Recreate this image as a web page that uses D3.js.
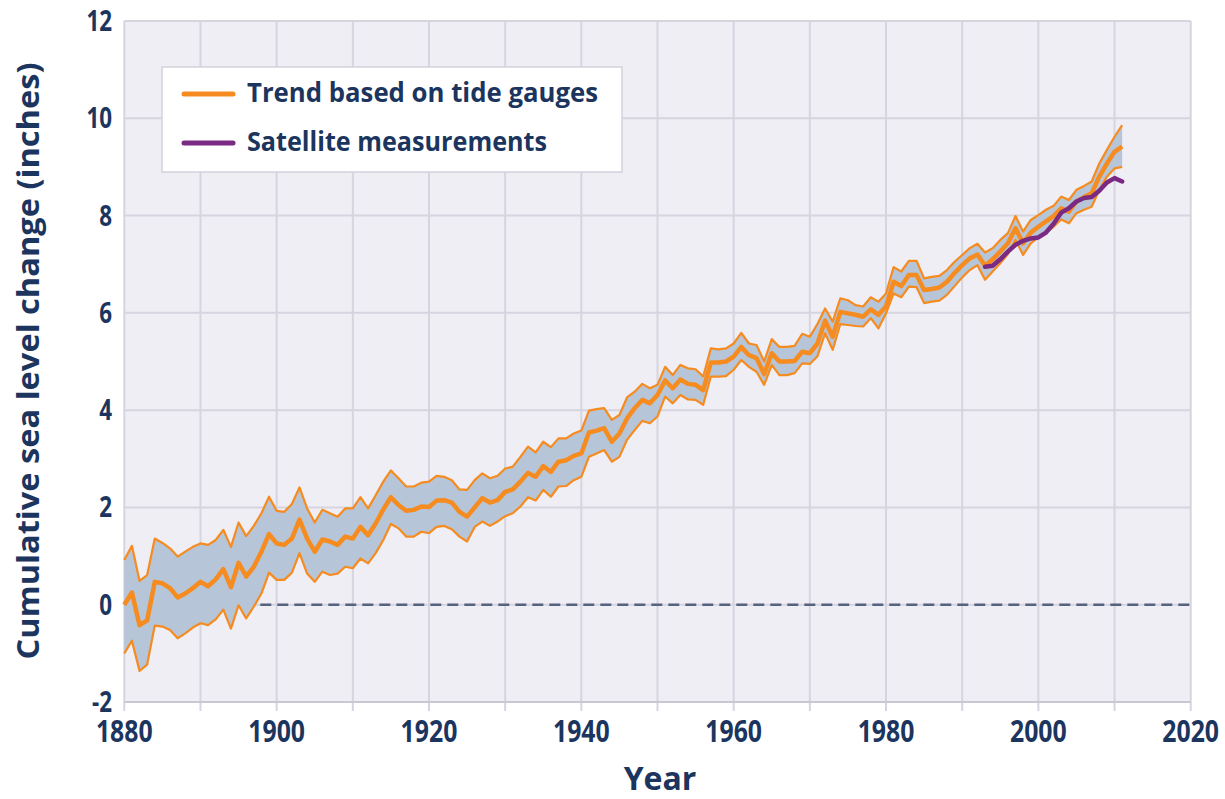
<!DOCTYPE html>
<html>
<head>
<meta charset="utf-8">
<script src="https://cdn.jsdelivr.net/npm/d3@7"></script>
<style>
  body { margin: 0; background: #fff; }
  text { font-family: "Open Sans", sans-serif; font-weight: 700; fill: #1c355e; }
</style>
</head>
<body>
<div id="chart"></div>
<script>
// tide gauge trend (inches), one value per year from 1880
const firstYear = 1880;
const trend = [
  0.00, 0.25, -0.42, -0.32, 0.47, 0.44, 0.34, 0.15, 0.23, 0.34,
  0.47, 0.38, 0.52, 0.73, 0.36, 0.86, 0.58, 0.78, 1.09, 1.45,
  1.26, 1.23, 1.36, 1.75, 1.36, 1.09, 1.34, 1.30, 1.23, 1.40,
  1.36, 1.60, 1.43, 1.67, 1.96, 2.21, 2.05, 1.93, 1.95, 2.02,
  2.01, 2.14, 2.15, 2.10, 1.91, 1.81, 2.00, 2.19, 2.10, 2.15,
  2.32, 2.37, 2.53, 2.71, 2.63, 2.85, 2.73, 2.94, 2.97, 3.06,
  3.11, 3.54, 3.58, 3.63, 3.35, 3.52, 3.83, 4.04, 4.21, 4.14,
  4.31, 4.61, 4.45, 4.63, 4.54, 4.52, 4.41, 4.98, 4.98, 5.00,
  5.10, 5.30, 5.13, 5.07, 4.74, 5.17, 5.00, 5.00, 5.01, 5.20,
  5.17, 5.37, 5.84, 5.51, 6.02, 5.99, 5.96, 5.92, 6.07, 5.96,
  6.13, 6.64, 6.55, 6.78, 6.78, 6.47, 6.49, 6.52, 6.64, 6.82,
  6.98, 7.12, 7.20, 6.97, 7.10, 7.26, 7.43, 7.74, 7.43, 7.65,
  7.77, 7.88, 7.99, 8.15, 8.08, 8.29, 8.38, 8.46, 8.80, 9.07,
  9.31, 9.42
];
const upper = [
  0.92, 1.21, 0.49, 0.61, 1.36, 1.27, 1.16, 0.99, 1.09, 1.19,
  1.26, 1.23, 1.33, 1.54, 1.19, 1.69, 1.41, 1.62, 1.88, 2.22,
  1.93, 1.91, 2.07, 2.41, 1.98, 1.69, 1.95, 1.88, 1.81, 1.98,
  1.98, 2.21, 1.98, 2.25, 2.53, 2.76, 2.60, 2.43, 2.43, 2.51,
  2.53, 2.65, 2.63, 2.56, 2.37, 2.36, 2.56, 2.70, 2.60, 2.65,
  2.80, 2.84, 3.04, 3.25, 3.13, 3.35, 3.24, 3.42, 3.42, 3.52,
  3.58, 3.99, 4.02, 4.04, 3.80, 3.90, 4.26, 4.38, 4.54, 4.45,
  4.52, 4.89, 4.72, 4.93, 4.86, 4.84, 4.69, 5.27, 5.25, 5.27,
  5.37, 5.59, 5.37, 5.34, 5.00, 5.46, 5.30, 5.30, 5.32, 5.57,
  5.51, 5.77, 6.09, 5.82, 6.30, 6.26, 6.16, 6.13, 6.32, 6.23,
  6.40, 6.94, 6.85, 7.07, 7.07, 6.71, 6.74, 6.76, 6.88, 7.05,
  7.19, 7.33, 7.42, 7.24, 7.33, 7.50, 7.64, 7.99, 7.67, 7.91,
  8.01, 8.12, 8.20, 8.39, 8.32, 8.53, 8.61, 8.70, 9.07, 9.35,
  9.62, 9.86
];
const lower = [
  -1.00, -0.74, -1.36, -1.23, -0.43, -0.45, -0.52, -0.69, -0.59, -0.47,
  -0.38, -0.42, -0.30, -0.10, -0.49, -0.01, -0.28, -0.04, 0.23, 0.66,
  0.51, 0.51, 0.66, 1.06, 0.64, 0.47, 0.68, 0.61, 0.64, 0.78,
  0.75, 0.95, 0.85, 1.06, 1.33, 1.66, 1.57, 1.40, 1.40, 1.50,
  1.47, 1.60, 1.62, 1.55, 1.40, 1.30, 1.60, 1.71, 1.62, 1.71,
  1.82, 1.88, 2.02, 2.21, 2.14, 2.36, 2.22, 2.43, 2.44, 2.56,
  2.63, 3.04, 3.11, 3.18, 2.94, 3.04, 3.39, 3.59, 3.78, 3.73,
  3.87, 4.28, 4.14, 4.31, 4.22, 4.21, 4.11, 4.69, 4.69, 4.70,
  4.83, 5.03, 4.89, 4.79, 4.52, 4.93, 4.72, 4.72, 4.76, 4.96,
  4.95, 5.11, 5.58, 5.24, 5.77, 5.75, 5.73, 5.72, 5.89, 5.68,
  5.99, 6.40, 6.32, 6.54, 6.53, 6.20, 6.23, 6.25, 6.37, 6.55,
  6.73, 6.88, 6.98, 6.68, 6.85, 7.02, 7.21, 7.50, 7.19, 7.43,
  7.55, 7.65, 7.77, 7.92, 7.84, 8.05, 8.12, 8.18, 8.53, 8.80,
  8.97, 9.00
];
// satellite measurements, 1993 onwards
const satFirstYear = 1993;
const satellite = [
  6.95, 6.97, 7.10, 7.26, 7.40, 7.48, 7.53, 7.55, 7.65, 7.83,
  8.06, 8.15, 8.29, 8.36, 8.38, 8.51, 8.68, 8.77, 8.70
];
const xTicks = [1880, 1900, 1920, 1940, 1960, 1980, 2000, 2020];
const yTicks = [-2, 0, 2, 4, 6, 8, 10, 12];
const legendItems = ["Trend based on tide gauges", "Satellite measurements"];

const W = 1225, H = 799;
const orange = "#f68b1f", purple = "#7a2a83", band = "#b6c5d7";

const svg = d3.select("#chart").append("svg")
  .attr("width", W).attr("height", H);

const x = d3.scaleLinear().domain([1880, 2020]).range([124.3, 1190.7]);
const y = d3.scaleLinear().domain([-2, 12]).range([702, 21]);

const rows = trend.map((v, i) => ({year: firstYear + i, mid: v, hi: upper[i], lo: lower[i]}));
const sat = satellite.map((v, i) => ({year: satFirstYear + i, v: v}));

// plot background
svg.append("rect")
  .attr("x", x(1880)).attr("y", y(12))
  .attr("width", x(2020) - x(1880)).attr("height", y(-2) - y(12))
  .attr("fill", "#f0eef5");

// grid
svg.append("g").selectAll("line")
  .data(d3.range(1880, 2021, 10)).join("line")
  .attr("x1", d => x(d)).attr("x2", d => x(d))
  .attr("y1", y(12)).attr("y2", y(-2) + 9)
  .attr("stroke", "#d6d4df").attr("stroke-width", 2);
svg.append("g").selectAll("line")
  .data(d3.range(-2, 13, 2)).join("line")
  .attr("x1", x(1880)).attr("x2", x(2020))
  .attr("y1", d => y(d)).attr("y2", d => y(d))
  .attr("stroke", d => d === -2 ? "#c9c7d3" : "#d6d4df").attr("stroke-width", 2);

// zero reference
svg.append("line")
  .attr("x1", x(1880)).attr("x2", x(2020))
  .attr("y1", y(0)).attr("y2", y(0))
  .attr("stroke", "#56637f").attr("stroke-width", 2.5)
  .attr("stroke-dasharray", "11,6");

// uncertainty band
svg.append("path").datum(rows)
  .attr("fill", band)
  .attr("d", d3.area().x(d => x(d.year)).y0(d => y(d.lo)).y1(d => y(d.hi)));

const line = key => d3.line().x(d => x(d.year)).y(d => y(d[key]));
["hi", "lo"].forEach(k => {
  svg.append("path").datum(rows)
    .attr("fill", "none").attr("stroke", orange)
    .attr("stroke-width", 2.2).attr("stroke-linejoin", "round")
    .attr("d", line(k));
});
svg.append("path").datum(rows)
  .attr("fill", "none").attr("stroke", orange)
  .attr("stroke-width", 4.5).attr("stroke-linejoin", "round")
  .attr("d", line("mid"));

svg.append("path").datum(sat)
  .attr("fill", "none").attr("stroke", purple)
  .attr("stroke-width", 4.5).attr("stroke-linejoin", "round").attr("stroke-linecap", "round")
  .attr("d", line("v"));

// squeeze text to the narrow look of the original lettering
function squeeze(sel, k) {
  sel.each(function() {
    const w = this.getComputedTextLength();
    d3.select(this).attr("textLength", w * k).attr("lengthAdjust", "spacingAndGlyphs");
  });
}

// tick labels
svg.append("g").selectAll("text")
  .data(xTicks).join("text")
  .attr("x", d => x(d)).attr("y", 742)
  .attr("text-anchor", "middle").attr("font-size", 31)
  .text(d => d)
  .call(squeeze, 0.8);

svg.append("g").selectAll("text")
  .data(yTicks).join("text")
  .attr("x", 112).attr("y", d => y(d) + 10)
  .attr("text-anchor", "end").attr("font-size", 28)
  .text(d => d)
  .call(squeeze, 0.8);

// axis titles
svg.append("text")
  .attr("x", 660).attr("y", 790)
  .attr("text-anchor", "middle").attr("font-size", 32)
  .text("Year");

svg.append("text")
  .attr("transform", "translate(39,361) rotate(-90)")
  .attr("text-anchor", "middle").attr("font-size", 30)
  .text("Cumulative sea level change (inches)")
  .each(function() { d3.select(this).attr("textLength", 597).attr("lengthAdjust", "spacingAndGlyphs"); });

// legend
const lg = svg.append("g");
lg.append("rect")
  .attr("x", 162).attr("y", 67).attr("width", 460).attr("height", 105)
  .attr("fill", "#fff").attr("stroke", "#d3d1db").attr("stroke-width", 1.5);
const rowsY = [94, 143];
const legendColors = [orange, purple];
const legendWidths = [351, 300];
legendItems.forEach((t, i) => {
  lg.append("line")
    .attr("x1", 184).attr("x2", 233).attr("y1", rowsY[i]).attr("y2", rowsY[i])
    .attr("stroke", legendColors[i]).attr("stroke-width", 5).attr("stroke-linecap", "round");
  lg.append("text")
    .attr("x", 247).attr("y", rowsY[i] + 8)
    .attr("font-size", 26)
    .attr("textLength", legendWidths[i]).attr("lengthAdjust", "spacingAndGlyphs")
    .text(t);
});
</script>
</body>
</html>
